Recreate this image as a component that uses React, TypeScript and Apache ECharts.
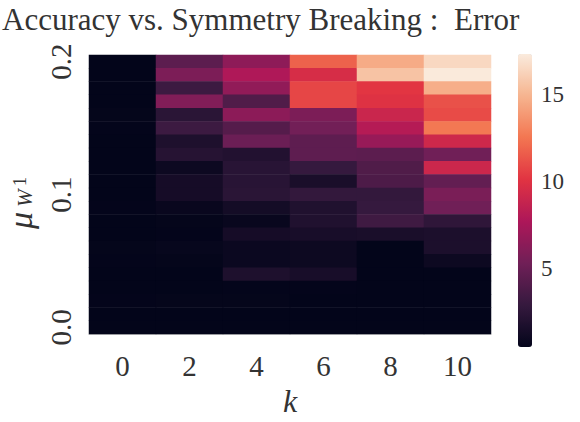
import React, { useEffect, useRef } from "react";
import * as echarts from "echarts";

// k values (x categories)
const kValues = ["0", "2", "4", "6", "8", "10"];
// mu values (y categories, bottom to top)
const muValues = Array.from({ length: 21 }, (_, i) => (i / 100).toFixed(2));
const muTickLabels: Record<string, string> = { "0.00": "0.0", "0.10": "0.1", "0.20": "0.2" };

// Error values per column, listed from top row (mu = 0.20) down to bottom row (mu = 0.00)
const errK0 = [0.5, 0.5, 0.5, 0.5, 0.6, 0.55, 0.5, 0.5, 0.5, 0.5, 0.5, 0.55, 0.5, 0.5, 0.6, 0.55, 0.5, 0.5, 0.55, 0.5, 0.5];
const errK2 = [4.5, 5.8, 3.2, 6.0, 2.4, 3.2, 1.8, 2.2, 1.0, 1.4, 1.4, 0.8, 0.6, 0.55, 0.7, 0.6, 0.5, 0.5, 0.6, 0.5, 0.5];
const errK4 = [6.5, 7.8, 6.6, 4.0, 6.4, 4.2, 5.1, 2.0, 2.3, 2.3, 2.4, 1.3, 0.8, 1.4, 0.9, 0.9, 1.8, 0.55, 0.6, 0.5, 0.5];
const errK6 = [11.8, 9.6, 10.8, 10.8, 5.8, 5.4, 4.6, 4.6, 2.9, 1.6, 2.8, 1.9, 1.9, 1.5, 1.0, 1.0, 1.5, 0.55, 0.5, 0.5, 0.5];
const errK8 = [14.6, 15.6, 10.2, 10.0, 9.0, 8.1, 6.9, 4.5, 4.0, 3.9, 2.8, 2.9, 3.3, 1.6, 0.5, 0.5, 0.5, 0.5, 0.5, 0.5, 0.5];
const errK10 = [16.5, 17.3, 14.7, 11.2, 11.0, 12.6, 9.2, 5.3, 9.1, 4.8, 5.7, 5.3, 2.6, 1.7, 1.7, 1.0, 0.5, 0.5, 0.5, 0.5, 0.5];
const columns = [errK0, errK2, errK4, errK6, errK8, errK10];

const colorMin = 0.5;
const colorMax = 17.35;
const colorbarTicks = [5, 10, 15];
// seaborn "rocket" colormap stops
const rocket = ["#03051A", "#35193E", "#701F57", "#AD1759", "#E13342", "#F37651", "#F6B48F", "#FAEBDD"];

const FONT = "'Liberation Serif', 'DejaVu Serif', serif";
const TEXT = "#333333";

export default function App() {
  const ref = useRef<HTMLDivElement>(null);
  useEffect(() => {
    document.body.style.margin = "0";
    if (!ref.current) return;
    const chart = echarts.init(ref.current, undefined, { renderer: "svg" });
    const data: [number, number, number][] = [];
    columns.forEach((col, xi) => {
      col.forEach((v, i) => {
        data.push([xi, muValues.length - 1 - i, v]);
      });
    });
    chart.setOption({
      animation: false,
      backgroundColor: "#ffffff",
      title: {
        text: "Accuracy vs. Symmetry Breaking :  Error",
        left: 2,
        top: 4,
        padding: 0,
        textStyle: { fontFamily: FONT, fontSize: 31, fontWeight: "normal", color: TEXT },
      },
      grid: [
        { left: 89, top: 55, width: 402, height: 294 },
        { left: 518, top: 54, width: 14, height: 293 },
      ],
      xAxis: [
        {
          type: "category",
          gridIndex: 0,
          data: kValues,
          axisLine: { show: true, lineStyle: { color: "#cccccc", width: 1 } },
          axisTick: { show: false },
          splitLine: { show: false },
          axisLabel: { fontFamily: FONT, fontSize: 29, color: TEXT, margin: 17 },
          name: "k",
          nameLocation: "middle",
          nameGap: 45,
          nameTextStyle: { fontFamily: FONT, fontSize: 32, fontStyle: "italic", color: TEXT },
        },
        { type: "value", gridIndex: 1, show: false },
      ],
      yAxis: [
        {
          type: "category",
          gridIndex: 0,
          data: muValues,
          axisLine: { show: false },
          axisTick: { show: false },
          splitLine: { show: false },
          axisLabel: {
            fontFamily: FONT,
            fontSize: 29,
            color: TEXT,
            rotate: 90,
            margin: 14,
            interval: (index: number) => index % 10 === 0,
            formatter: (v: string) => muTickLabels[v] ?? "",
          },
        },
        {
          type: "value",
          gridIndex: 1,
          position: "right",
          min: colorMin,
          max: colorMax,
          axisLine: { show: false },
          splitLine: { show: false },
          axisTick: { show: true, length: 5, lineStyle: { color: "#555555" }, customValues: colorbarTicks },
          axisLabel: { fontFamily: FONT, fontSize: 23, color: TEXT, margin: 9, customValues: colorbarTicks },
        },
      ],
      visualMap: {
        type: "continuous",
        min: colorMin,
        max: colorMax,
        dimension: 2,
        seriesIndex: 0,
        orient: "vertical",
        left: 518,
        top: 54,
        padding: 0,
        itemWidth: 14,
        itemHeight: 293,
        calculable: false,
        hoverLink: false,
        inRange: { color: rocket },
      },
      graphic: [
        {
          type: "group",
          x: 20,
          y: 229,
          rotation: Math.PI / 2,
          children: [
            { type: "text", x: 0, y: 0, style: { text: "μ", font: `italic 34px ${FONT}`, fill: TEXT, textAlign: "left", textVerticalAlign: "middle" } },
            { type: "text", x: 22, y: 5, style: { text: "W", font: `italic 21px ${FONT}`, fill: TEXT, textAlign: "left", textVerticalAlign: "middle" } },
            { type: "text", x: 43, y: 0, style: { text: "1", font: `18px ${FONT}`, fill: TEXT, textAlign: "left", textVerticalAlign: "middle" } },
          ],
        },
      ],
      series: [
        {
          type: "heatmap",
          xAxisIndex: 0,
          yAxisIndex: 0,
          data,
          emphasis: { disabled: true },
          itemStyle: { borderWidth: 0 },
        },
      ],
    });
    return () => chart.dispose();
  }, []);
  return <div ref={ref} style={{ width: 580, height: 422 }} />;
}
